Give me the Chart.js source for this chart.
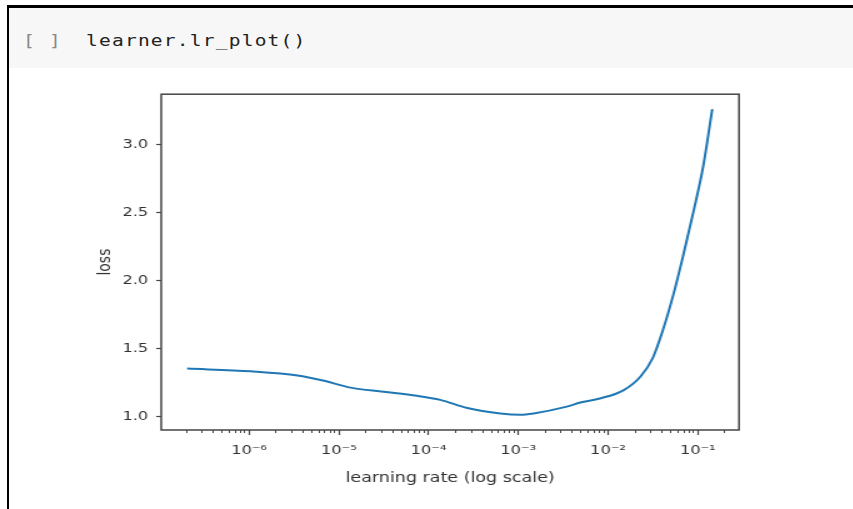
<!DOCTYPE html>
<html>
<head>
<meta charset="utf-8">
<script src="https://cdn.jsdelivr.net/npm/chart.js@4"></script>
<style>
  html, body { margin: 0; padding: 0; background: #fff; }
  body { width: 853px; height: 509px; position: relative; overflow: hidden; }
  #frame { position: absolute; left: 7px; top: 5px; width: 846px; height: 504px; border-top: 3px solid #000; border-left: 2px solid #000; }
  #cell { position: absolute; left: 9px; top: 8px; right: 0; height: 60px; background: #f7f7f7; }
  .code { position: absolute; top: 33px; font: 16px "DejaVu Sans Mono", monospace; line-height: 16px; letter-spacing: 1px; transform: scaleX(1.22); transform-origin: 0 0; white-space: pre; }
  #prompt { left: 23px; color: #8a8a8a; }
  #src { left: 86px; color: #222; }
  #wrap { position: absolute; left: 0; top: 80px; width: 640px; height: 420px; transform: scaleX(1.25); transform-origin: 0 0; }
</style>
</head>
<body>
<div id="frame"></div>
<div id="cell"></div>
<div class="code" id="prompt">[ ]</div>
<div class="code" id="src">learner.lr_plot()</div>
<div id="wrap"><canvas id="c" width="640" height="420"></canvas></div>
<script>
const lr = [2.04e-7, 1.05e-6, 3.47e-6, 6.9e-6, 1.35e-5, 3.16e-5, 7.4e-5, 1.35e-4, 2.7e-4, 6.3e-4,
    1.05e-3, 1.48e-3, 3.47e-3, 4.9e-3, 8.1e-3, 1.48e-2, 2.29e-2, 3.16e-2, 4.07e-2, 5.37e-2,
    6.92e-2, 8.91e-2, 0.115, 0.145];
const loss = [1.35, 1.33, 1.30, 1.26, 1.21, 1.18, 1.15, 1.12, 1.06, 1.02,
    1.01, 1.02, 1.07, 1.10, 1.13, 1.19, 1.29, 1.43, 1.63, 1.90,
    2.19, 2.50, 2.84, 3.26];
const xMajor = [1e-6, 1e-5, 1e-4, 1e-3, 1e-2, 1e-1];
const xLabels = ['10⁻⁶', '10⁻⁵', '10⁻⁴', '10⁻³', '10⁻²', '10⁻¹'];
const yTicks = [1.0, 1.5, 2.0, 2.5, 3.0];
const xMin = 1.05e-7, xMax = 0.288;
const yMin = 0.898, yMax = 3.37;

const xMinor = [];
for (let e = -7; e <= -1; e++) {
    for (let m = 2; m <= 9; m++) {
        const v = m * Math.pow(10, e);
        if (v > xMin && v < xMax) xMinor.push(v);
    }
}

const font = 'DejaVu Sans';
const ink = '#333';
const spine = '#444';

// matplotlib style box round the axes
const box = {
    id: 'box',
    afterDraw(chart) {
        const a = chart.chartArea;
        const c = chart.ctx;
        c.save();
        c.strokeStyle = spine;
        c.lineWidth = 1.5;
        c.strokeRect(a.left, a.top, a.right - a.left, a.bottom - a.top);
        c.restore();
    }
};

new Chart(document.getElementById('c'), {
    type: 'line',
    data: {
        datasets: [{
            data: lr.map((v, i) => ({x: v, y: loss[i]})),
            borderColor: '#1f77b4',
            borderWidth: 2,
            pointRadius: 0,
            cubicInterpolationMode: 'monotone'
        }]
    },
    options: {
        responsive: false,
        animation: false,
        devicePixelRatio: 1,
        layout: {padding: {top: 13, left: 0, right: 48.8, bottom: 0}},
        plugins: {legend: {display: false}, tooltip: {enabled: false}},
        scales: {
            x: {
                type: 'logarithmic', position: 'bottom', min: xMin, max: xMax, weight: 1,
                afterBuildTicks: s => { s.ticks = xMajor.map(v => ({value: v})); },
                afterFit: s => { s.height = 70; },
                border: {display: false},
                grid: {drawOnChartArea: false, tickLength: 5, tickColor: spine, tickWidth: 1.2},
                ticks: {
                    autoSkip: false, maxRotation: 0, padding: 8, color: ink,
                    font: {family: font, size: 13},
                    callback: (v, i) => xLabels[i]
                },
                title: {
                    display: true, text: 'learning rate (log scale)', color: ink,
                    font: {family: font, size: 14}, padding: {top: 0, bottom: 13.6}
                }
            },
            xm: {
                type: 'logarithmic', position: 'bottom', axis: 'x', min: xMin, max: xMax, weight: 0,
                afterBuildTicks: s => { s.ticks = xMinor.map(v => ({value: v})); },
                afterFit: s => { s.height = 0; },
                border: {display: false},
                grid: {drawOnChartArea: false, tickLength: 3, tickColor: spine},
                ticks: {display: false}
            },
            y: {
                min: yMin, max: yMax,
                afterBuildTicks: s => { s.ticks = yTicks.map(v => ({value: v})); },
                afterFit: s => { s.width = 129; },
                border: {display: false},
                grid: {drawOnChartArea: false, tickLength: 4, tickColor: spine, tickWidth: 1.2},
                ticks: {
                    padding: 6.4, color: ink, font: {family: font, size: 13},
                    callback: v => v.toFixed(1)
                },
                title: {
                    display: true, text: 'loss', color: ink,
                    font: {family: font, size: 14}, padding: {top: 75.6, bottom: 0}
                }
            }
        }
    },
    plugins: [box]
});
</script>
</body>
</html>
